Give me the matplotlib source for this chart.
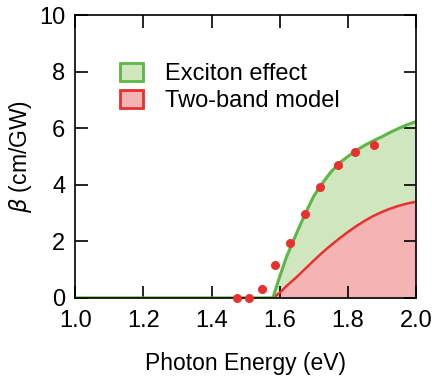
import numpy as np
import matplotlib
matplotlib.use("Agg")
import matplotlib.pyplot as plt
from matplotlib.patches import Patch

plt.rcParams['font.family'] = ['Liberation Sans', 'DejaVu Sans']

# curves
energy = [1.0, 1.58, 1.60, 1.62, 1.65, 1.675, 1.70, 1.725, 1.75, 1.775, 1.80,
          1.825, 1.85, 1.875, 1.90, 1.925, 1.95, 1.975, 2.0]
exciton = [0, 0, 0.75, 1.45, 2.3, 2.98, 3.6, 4.05, 4.45, 4.77, 5.0,
           5.22, 5.4, 5.56, 5.7, 5.86, 6.0, 6.13, 6.23]
twoband = [0, 0, 0.18, 0.42, 0.74, 1.03, 1.32, 1.6, 1.86, 2.1, 2.33,
           2.54, 2.73, 2.9, 3.04, 3.16, 3.26, 3.34, 3.4]

# measured points
exp_e = [1.475, 1.51, 1.548, 1.586, 1.63, 1.674, 1.718, 1.771, 1.821, 1.877]
exp_b = [0.0, 0.0, 0.32, 1.17, 1.94, 2.97, 3.92, 4.70, 5.16, 5.41]

green = '#5db646'
green_fill = '#cfe6bf'
red = '#e8302e'
red_fill = '#f5b4b4'

fig = plt.figure(figsize=(4.32, 3.79), dpi=100)
ax = fig.add_axes([0.174, 0.214, 0.789, 0.746])

e = np.array(energy)
ex = np.array(exciton)
tb = np.array(twoband)
ax.fill_between(e, tb, ex, color=green_fill, lw=0)
ax.fill_between(e, 0, tb, color=red_fill, lw=0)
on = e >= 1.58
ax.plot(e[on], tb[on], color=red, lw=1.8)
ax.plot(e, ex, color=green, lw=2.2)
ax.plot(exp_e, exp_b, 'o', color=red, ms=6.5, mec='none', clip_on=False, zorder=5)

ax.set_xlim(1.0, 2.0)
ax.set_ylim(0, 10)
ax.set_xticks([1.0, 1.2, 1.4, 1.6, 1.8, 2.0])
ax.set_yticks([0, 2, 4, 6, 8, 10])
ax.tick_params(direction='in', length=9, width=1.2, labelsize=17,
               top=True, right=True)
ax.tick_params(axis='x', pad=9)
ax.tick_params(axis='y', pad=7)
for s in ax.spines.values():
    s.set_linewidth(1.2)
ax.set_xlabel('Photon Energy (eV)', fontsize=16.5, labelpad=14)
ax.set_ylabel(r'$\beta$ (cm/GW)', fontsize=16.5, labelpad=4)

handles = [Patch(facecolor=green_fill, edgecolor=green, lw=2),
           Patch(facecolor=red_fill, edgecolor=red, lw=2)]
ax.legend(handles, ['Exciton effect', 'Two-band model'], loc='upper left',
          bbox_to_anchor=(0.07, 0.907), frameon=False, fontsize=17,
          handlelength=0.95, handleheight=0.8, handletextpad=0.95, labelspacing=0.22)

fig.savefig('out.png', dpi=100)
